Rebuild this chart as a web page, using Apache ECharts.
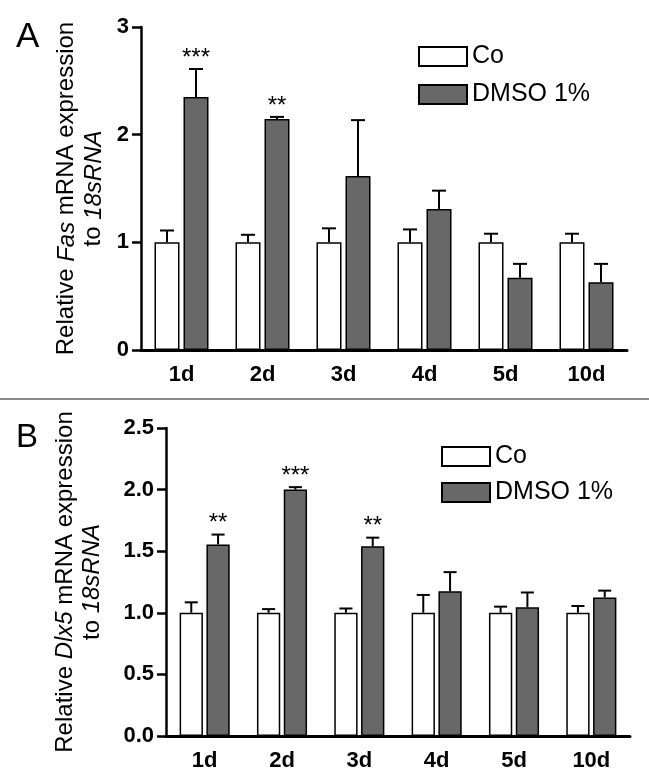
<!DOCTYPE html>
<html>
<head>
<meta charset="utf-8">
<script src="https://cdn.jsdelivr.net/npm/echarts@6/dist/echarts.min.js"></script>
<style>
html,body{margin:0;padding:0;background:#fff;}
#chart{width:649px;height:784px;}
</style>
</head>
<body>
<div id="chart"></div>
<script>
// ---- data ----
const days = ['1d', '2d', '3d', '4d', '5d', '10d'];
const seriesNames = ['Co', 'DMSO 1%'];

// Panel A: Fas
const fasCo = [1, 1, 1, 1, 1, 1];
const fasCoErr = [0.11, 0.07, 0.13, 0.12, 0.08, 0.08];
const fasDmso = [2.35, 2.145, 1.615, 1.31, 0.67, 0.63];
const fasDmsoErr = [0.26, 0.02, 0.52, 0.17, 0.13, 0.17];
const fasStars = ['***', '**', '', '', '', ''];
const fasTicks = [0, 1, 2, 3];

// Panel B: Dlx5
const dlxCo = [1, 1, 1, 1, 1, 1];
const dlxCoErr = [0.085, 0.03, 0.035, 0.145, 0.05, 0.055];
const dlxDmso = [1.555, 2.0, 1.54, 1.175, 1.045, 1.125];
const dlxDmsoErr = [0.08, 0.02, 0.07, 0.155, 0.12, 0.055];
const dlxStars = ['**', '***', '**', '', '', ''];
const dlxTicks = [0, 0.5, 1.0, 1.5, 2.0, 2.5];

// ---- styling ----
const FONT = 'Liberation Sans, Arial, Helvetica, sans-serif';
const GREY = '#686868';
const barW = [25, 23.3];
const gapFrac = [0.16, 0.15];

const chart = echarts.init(document.getElementById('chart'), null, {renderer: 'canvas'});

function errSeries(name, gi, vals, errs, stars, side) {
  const w = barW[gi], g = gapFrac[gi];
  return {
    name: name,
    type: 'custom',
    xAxisIndex: gi,
    yAxisIndex: gi,
    z: 5,
    silent: true,
    encode: {x: 0, y: 1},
    data: vals.map((v, i) => [i, v, errs[i]]),
    renderItem: function (params, api) {
      const i = api.value(0), v = api.value(1), e = api.value(2);
      const base = api.coord([i, v]);
      const top = api.coord([i, v + e]);
      const x = base[0] + side * (w + w * g) / 2;
      const cap = w * 0.28;
      const children = [
        {type: 'line', shape: {x1: x, y1: base[1], x2: x, y2: top[1]}, style: {stroke: '#000', lineWidth: 2}},
        {type: 'line', shape: {x1: x - cap, y1: top[1], x2: x + cap, y2: top[1]}, style: {stroke: '#000', lineWidth: 2}}
      ];
      const s = stars[params.dataIndex];
      if (s) {
        children.push({type: 'text', style: {text: s, x: x, y: top[1] + 1, align: 'center', verticalAlign: 'bottom',
          fontSize: 24, fontFamily: FONT, fill: '#000'}});
      }
      return {type: 'group', children: children};
    }
  };
}

function barSeries(name, gi, vals, color) {
  return {
    name: name,
    type: 'bar',
    xAxisIndex: gi,
    yAxisIndex: gi,
    barWidth: barW[gi],
    barGap: (gapFrac[gi] * 100) + '%',
    data: vals,
    itemStyle: {color: color, borderColor: '#000', borderWidth: 1.5},
    emphasis: {disabled: true}
  };
}

function xAxisCfg(gi) {
  return {
    type: 'category',
    gridIndex: gi,
    data: days,
    axisLine: {lineStyle: {color: '#000', width: 3}},
    axisTick: {alignWithLabel: true, length: 7, lineStyle: {color: '#000', width: 3}},
    axisLabel: {color: '#000', fontSize: 22, fontWeight: 'bold', fontFamily: FONT, margin: 14}
  };
}

function yAxisCfg(gi, ticks, line1, italic1, line1b, italic2, gap, fmt) {
  return {
    type: 'value',
    gridIndex: gi,
    min: ticks[0],
    max: ticks[ticks.length - 1],
    interval: ticks[1] - ticks[0],
    splitLine: {show: false},
    axisLine: {show: true, lineStyle: {color: '#000', width: 2.5}},
    axisTick: {show: true, length: 9, lineStyle: {color: '#000', width: 2.5}},
    axisLabel: {color: '#000', fontSize: 22, fontWeight: 'bold', fontFamily: FONT, margin: 12, formatter: fmt},
    name: '{n|' + line1 + '}{i|' + italic1 + '}{n|' + line1b + '}\n{n|to }{i|' + italic2 + '}',
    nameLocation: 'middle',
    nameRotate: 90,
    nameGap: gap,
    nameTextStyle: {
      align: 'center',
      rich: {
        n: {fontSize: 24, fontFamily: FONT, color: '#000', lineHeight: 27, align: 'center'},
        i: {fontSize: 24, fontFamily: FONT, color: '#000', fontStyle: 'italic', lineHeight: 27, align: 'center'}
      }
    }
  };
}

function legendCfg(left, top, gap) {
  return {
    data: seriesNames,
    orient: 'vertical',
    left: left,
    top: top,
    padding: 0,
    icon: 'rect',
    itemWidth: 48,
    itemHeight: 19,
    itemGap: gap,
    selectedMode: false,
    textStyle: {fontSize: 25, fontFamily: FONT, color: '#000', lineHeight: 19}
  };
}

const option = {
  backgroundColor: '#fff',
  animation: false,
  grid: [
    {left: 141, top: 27, width: 486, height: 323},
    {left: 166, top: 428, width: 464, height: 308}
  ],
  xAxis: [xAxisCfg(0), xAxisCfg(1)],
  yAxis: [
    yAxisCfg(0, fasTicks, 'Relative ', 'Fas', ' mRNA expression', '18sRNA', 33, v => String(v)),
    yAxisCfg(1, dlxTicks, 'Relative ', 'Dlx5', ' mRNA expression', '18sRNA', 60, v => v.toFixed(1))
  ],
  legend: [legendCfg(418, 44, 13), legendCfg(441, 444, 11)],
  series: [
    barSeries('Co', 0, fasCo, '#fff'),
    barSeries('DMSO 1%', 0, fasDmso, GREY),
    errSeries('errA0', 0, fasCo, fasCoErr, ['', '', '', '', '', ''], -1),
    errSeries('errA1', 0, fasDmso, fasDmsoErr, fasStars, 1),
    barSeries('Co', 1, dlxCo, '#fff'),
    barSeries('DMSO 1%', 1, dlxDmso, GREY),
    errSeries('errB0', 1, dlxCo, dlxCoErr, ['', '', '', '', '', ''], -1),
    errSeries('errB1', 1, dlxDmso, dlxDmsoErr, dlxStars, 1)
  ],
  graphic: [
    {type: 'line', shape: {x1: 0, y1: 399, x2: 649, y2: 399}, style: {stroke: '#8a8a8a', lineWidth: 2}},
    {type: 'text', left: 16, top: 20, style: {text: 'A', fontSize: 35, fontFamily: FONT, fill: '#000'}},
    {type: 'text', left: 16, top: 421, style: {text: 'B', fontSize: 33, fontFamily: FONT, fill: '#000'}}
  ]
};

chart.setOption(option);
</script>
</body>
</html>
